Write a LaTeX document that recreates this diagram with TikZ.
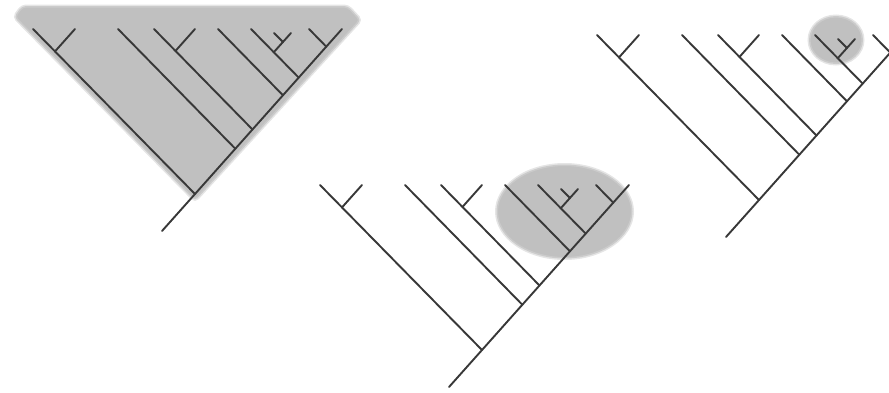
\documentclass[tikz,border=0pt]{standalone}
\usepackage{xcolor}
\usepackage{tikz}
\usetikzlibrary{calc}

\definecolor{branchgray}{HTML}{383838}
\definecolor{blobgray}{HTML}{C0C0C0}

% one cladogram, #1 = name prefix, #2 = position of the leftmost tip
\newcommand{\cladetree}[2]{%
  \begin{scope}[shift={#2}]
    \coordinate (#1a) at (0,0);
    \coordinate (#1b) at (42,0);
    \coordinate (#1ab) at (22,22.4);
    \coordinate (#1root) at (162,165);
    \coordinate (#1stem) at (129,202);
    \coordinate (#1c) at (85,0);
    \coordinate (#1cn) at (202.4,119.8);
    \coordinate (#1d) at (121,0);
    \coordinate (#1e) at (162,0);
    \coordinate (#1de) at (142.5,21.9);
    \coordinate (#1den) at (219.5,100.5);
    \coordinate (#1f) at (185,0);
    \coordinate (#1fn) at (249.1,65.4);
    \coordinate (#1g) at (218,0);
    \coordinate (#1h) at (241,4);
    \coordinate (#1i) at (258,4);
    \coordinate (#1hi) at (249.9,13);
    \coordinate (#1ghi) at (240.8,23.2);
    \coordinate (#1gn) at (265.8,48.7);
    \coordinate (#1j) at (276,0);
    \coordinate (#1jk) at (293.4,17.8);
    \coordinate (#1k) at (309,0);
    \draw [branch] (#1stem) -- (#1root) -- (#1k);
    \draw [branch] (#1a) -- (#1root);
    \draw [branch] (#1b) -- (#1ab);
    \draw [branch] (#1c) -- (#1cn);
    \draw [branch] (#1d) -- (#1den);
    \draw [branch] (#1e) -- (#1de);
    \draw [branch] (#1f) -- (#1fn);
    \draw [branch] (#1g) -- (#1gn);
    \draw [branch] (#1h) -- (#1hi);
    \draw [branch] (#1i) -- (#1ghi);
    \draw [branch] (#1j) -- (#1jk);
  \end{scope}}

\begin{document}
\begin{tikzpicture}[
    x=1pt, y=-1pt,
    branch/.style={draw=branchgray, line width=1.9pt, line cap=round},
    blob/.style={fill=blobgray, draw=blobgray!70, line width=3pt, draw opacity=0.6},
]
\useasboundingbox (0,0) rectangle (889,392);
\clip (0,0) rectangle (889,392);

% Whole group
\path [blob, rounded corners=4pt] (195,201) -- (14,17) -- (22,6) -- (348,6) -- (361,20) -- cycle;

% Middle group
\path [blob] (564.5,211.5) ellipse [x radius=68, y radius=47];

% Small group
\path [blob] (836,40) ellipse [x radius=27, y radius=24];

% Trees
\cladetree{l}{(33,29)}
\cladetree{m}{(320,185)}
\cladetree{r}{(597,35)}

\end{tikzpicture}
\end{document}
